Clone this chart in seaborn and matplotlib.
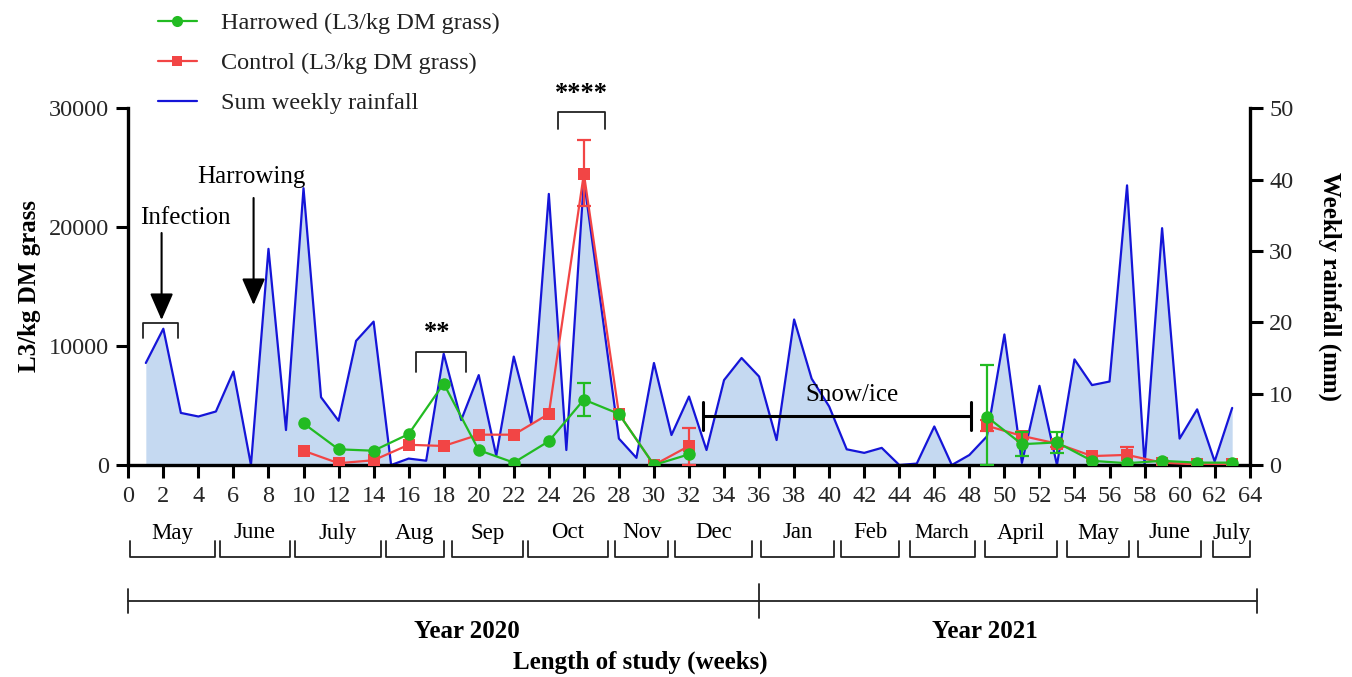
import matplotlib
matplotlib.use("Agg")
import matplotlib.pyplot as plt
from matplotlib.lines import Line2D
import seaborn as sns
import pandas as pd

# ---------------- data ----------------
rain_weeks = list(range(1, 64))
rainfall_mm = [14.3, 19.1, 7.3, 6.8, 7.5, 13.1, 0.0, 30.3, 4.9, 38.8,
               9.5, 6.2, 17.4, 20.1, 0.0, 0.9, 0.6, 15.6, 6.3, 12.6,
               1.3, 15.2, 5.8, 38.0, 2.1, 40.0, 22.0, 3.7, 1.0, 14.3,
               4.2, 9.6, 2.1, 11.9, 15.0, 12.4, 3.5, 20.4, 12.1, 8.2,
               2.2, 1.7, 2.4, 0.0, 0.2, 5.4, 0.0, 1.4, 4.0, 18.3,
               0.3, 11.1, 0.0, 14.8, 11.2, 11.7, 39.2, 0.0, 33.2, 3.7,
               7.8, 0.5, 8.0]

sample_weeks = [10, 12, 14, 16, 18, 20, 22, 24, 26, 28, 30, 32,
                49, 51, 53, 55, 57, 59, 61, 63]
sample_period = ["2020"] * 12 + ["2021"] * 8
harrowed = [3500, 1320, 1200, 2600, 6850, 1250, 200, 2000, 5500, 4300, 0, 900,
            4050, 1750, 1900, 350, 150, 350, 200, 200]
harrowed_err_lo = [0, 0, 0, 0, 0, 0, 0, 0, 1400, 0, 0, 0,
                   4050, 1000, 900, 0, 0, 0, 0, 0]
harrowed_err_hi = [0, 0, 0, 0, 0, 0, 0, 0, 1400, 0, 0, 0,
                   4350, 1000, 900, 0, 0, 0, 0, 0]
control = [1200, 150, 400, 1700, 1600, 2550, 2550, 4300, 24500, 4300, 0, 1600,
           3300, 2450, 1800, 750, 850, 200, 50, 50]
control_err_lo = [0, 0, 0, 0, 0, 0, 0, 0, 2750, 0, 0, 1600,
                  450, 300, 250, 0, 700, 0, 0, 0]
control_err_hi = [0, 0, 0, 0, 0, 0, 0, 0, 2800, 0, 0, 1500,
                  450, 300, 250, 0, 700, 0, 0, 0]

month_labels = ["May", "June", "July", "Aug", "Sep", "Oct", "Nov", "Dec",
                "Jan", "Feb", "March", "April", "May", "June", "July"]
month_start = [0.1, 5.25, 9.5, 14.7, 18.5, 22.8, 27.8, 31.2,
               36.1, 40.7, 44.6, 48.9, 53.6, 57.6, 61.9]
month_end = [4.95, 9.2, 14.4, 18.0, 22.5, 27.4, 30.8, 35.6,
             40.3, 44.0, 48.3, 53.0, 57.1, 61.2, 64.0]

legend_labels = ["Harrowed (L3/kg DM grass)", "Control (L3/kg DM grass)",
                 "Sum weekly rainfall"]

# ---------------- style ----------------
sns.set_style("ticks")
plt.rcParams["font.family"] = ["Liberation Serif", "DejaVu Serif"]
plt.rcParams["text.color"] = "black"

GREEN = "#22bb22"
RED = "#f24545"
BLUE = "#1515d8"
FILL = "#c5d9f1"

W, H = 1352, 677
fig = plt.figure(figsize=(W / 100, H / 100), dpi=100)
x0, x1, ytop, ybot = 128.3, 1249.7, 108.3, 465.0
ax = fig.add_axes([x0 / W, 1 - ybot / H, (x1 - x0) / W, (ybot - ytop) / H])
ax2 = ax.twinx()

# rainfall (right axis)
rain_df = pd.DataFrame({"week": rain_weeks, "rain": rainfall_mm})
ax2.fill_between(rain_df["week"], 0, rain_df["rain"], color=FILL, lw=0, zorder=1)
sns.lineplot(data=rain_df, x="week", y="rain", ax=ax2, color=BLUE, lw=1.6,
             zorder=2, legend=False)

# parasites (left axis), two separate sampling periods
h_df = pd.DataFrame({"week": sample_weeks, "val": harrowed, "seg": sample_period})
c_df = pd.DataFrame({"week": sample_weeks, "val": control, "seg": sample_period})
sns.lineplot(data=c_df, x="week", y="val", units="seg", estimator=None, ax=ax,
             color=RED, lw=1.6, marker="s", markersize=8, markeredgewidth=0,
             zorder=4, legend=False)
sns.lineplot(data=h_df, x="week", y="val", units="seg", estimator=None, ax=ax,
             color=GREEN, lw=1.6, marker="o", markersize=9, markeredgewidth=0,
             zorder=5, legend=False)

def draw_err(weeks, vals, lo, hi, color, z):
    keep = [i for i in range(len(weeks)) if lo[i] or hi[i]]
    ax.errorbar([weeks[i] for i in keep], [vals[i] for i in keep],
                yerr=[[lo[i] for i in keep], [hi[i] for i in keep]],
                fmt="none", ecolor=color, elinewidth=1.6, capsize=5,
                capthick=1.6, zorder=z)

draw_err(sample_weeks, control, control_err_lo, control_err_hi, RED, 3.5)
draw_err(sample_weeks, harrowed, harrowed_err_lo, harrowed_err_hi, GREEN, 4.5)

ax.set_zorder(ax2.get_zorder() + 1)
ax.patch.set_visible(False)

# axes limits / ticks
ax.set_xlim(0, 64)
ax.set_ylim(0, 30000)
ax2.set_ylim(0, 50)
ax.set_xticks(range(0, 65, 2))
ax.set_yticks([0, 10000, 20000, 30000])
ax2.set_yticks([0, 10, 20, 30, 40, 50])
ax.set_xlabel("")
ax.set_ylabel("")
ax2.set_ylabel("")
for a in (ax, ax2):
    a.tick_params(axis="both", labelsize=17.5, width=2.2, length=9,
                  color="black", direction="out", pad=5)
    for s in a.spines.values():
        s.set_linewidth(2.4)
        s.set_color("black")
    a.spines["top"].set_visible(False)
ax.spines["right"].set_visible(False)
ax2.spines["left"].set_visible(False)
ax2.spines["bottom"].set_visible(False)
ax.tick_params(axis="x", pad=6)

fig.text(30 / W, 1 - 286 / H, "L3/kg DM grass", rotation=90, ha="center",
         va="center", fontsize=18, fontweight="bold")
fig.text(1330 / W, 1 - 286 / H, "Weekly rainfall (mm)", rotation=270,
         ha="center", va="center", fontsize=18, fontweight="bold")

# annotations in the plot
def L(py):  # pixel y -> L3 data value
    return (ybot - py) / (ybot - ytop) * 30000

arrow_kw = dict(arrowstyle="-|>,head_length=1.65,head_width=0.72", color="black",
                lw=1.5, shrinkA=0, shrinkB=0, mutation_scale=10)
ax.annotate("", xy=(1.9, L(320)), xytext=(1.9, L(233)), arrowprops=arrow_kw)
ax.annotate("", xy=(7.15, L(305)), xytext=(7.15, L(198)), arrowprops=arrow_kw)
ax.text(3.24, L(218), "Infection", ha="center", va="center", fontsize=18)
ax.text(7.04, L(177), "Harrowing", ha="center", va="center", fontsize=18)

def bracket(xa, xb, ytop_px, ybot_px, lw=1.3):
    ax.plot([xa, xa, xb, xb], [L(ybot_px), L(ytop_px), L(ytop_px), L(ybot_px)],
            color="#222222", lw=lw, clip_on=False, zorder=6)

bracket(0.86, 2.86, 322.7, 338.3)
bracket(16.4, 19.3, 351.7, 371.7)
bracket(24.5, 27.2, 111.7, 129.3)
ax.text(17.6, L(333), "**", ha="center", va="center", fontsize=19,
        fontweight="bold")
ax.text(25.85, L(94), "****", ha="center", va="center", fontsize=19,
        fontweight="bold")

# snow/ice
ax.plot([32.8, 48.1], [L(416), L(416)], color="black", lw=2.2, zorder=6)
ax.plot([32.8, 32.8], [L(401.7), L(430)], color="black", lw=2.2, zorder=6)
ax.plot([48.1, 48.1], [L(401.7), L(430)], color="black", lw=2.2, zorder=6)
ax.text(41.3, L(395), "Snow/ice", ha="center", va="center", fontsize=18)

# month brackets under the axis
tr = ax.get_xaxis_transform()
def F(py):  # pixel y -> axes fraction
    return (ybot - py) / (ybot - ytop)

for lab, a, b in zip(month_labels, month_start, month_end):
    ax.plot([a, a, b, b], [F(541), F(557), F(557), F(541)], transform=tr,
            color="#222222", lw=1.3, clip_on=False)
    ax.text((a + b) / 2, F(533), lab, transform=tr, ha="center", va="center",
            fontsize=16.5 if lab != "March" else 15)

# year line
ax.plot([0, 64.4], [F(601), F(601)], transform=tr, color="#222222", lw=1.3,
        clip_on=False)
for xv, half in ((0, 12), (36, 17), (64.4, 12)):
    ax.plot([xv, xv], [F(601 - half), F(601 + half)], transform=tr,
            color="#222222", lw=1.3, clip_on=False)
ax.text(19.3, F(632), "Year 2020", transform=tr, ha="center", va="center",
        fontsize=18, fontweight="bold")
ax.text(48.9, F(632), "Year 2021", transform=tr, ha="center", va="center",
        fontsize=18, fontweight="bold")
ax.text(29.2, F(662), "Length of study (weeks)", transform=tr, ha="center",
        va="center", fontsize=18, fontweight="bold")

# legend
handles = [Line2D([], [], color=GREEN, lw=1.6, marker="o", markersize=8,
                  markeredgewidth=0),
           Line2D([], [], color=RED, lw=1.6, marker="s", markersize=7,
                  markeredgewidth=0),
           Line2D([], [], color=BLUE, lw=1.6)]
leg = fig.legend(handles, legend_labels, loc="upper left",
                 bbox_to_anchor=(158 / W, 1 - 12 / H), frameon=False,
                 fontsize=17.5, handlelength=1.6, handletextpad=1.0,
                 labelspacing=0.74, borderpad=0, borderaxespad=0)
for t in leg.get_texts():
    t.set_color("#222222")

fig.savefig("out.png", dpi=100)
